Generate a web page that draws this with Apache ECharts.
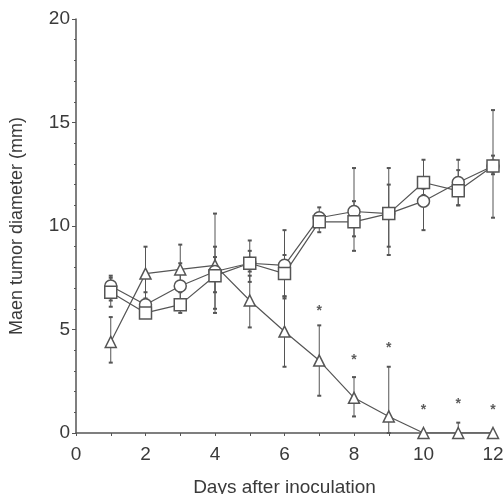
<!DOCTYPE html>
<html>
<head>
<meta charset="utf-8">
<script src="https://cdn.jsdelivr.net/npm/echarts@6/dist/echarts.min.js"></script>
<style>
  html, body { margin: 0; padding: 0; background: #fff; }
  #chart { width: 504px; height: 494px; }
</style>
</head>
<body>
<div id="chart"></div>
<script>
// days after inoculation
const days = [1, 2, 3, 4, 5, 6, 7, 8, 9, 10, 11, 12];

// triangle group (treated)
const triMean = [4.4, 7.7, 7.9, 8.1, 6.4, 4.9, 3.5, 1.7, 0.8, 0, 0, 0];
const triLow  = [3.4, 6.5, 6.8, 6.0, 5.1, 3.2, 1.8, 0.8, 0, 0, 0, 0];
const triHigh = [5.6, 9.0, 9.1, 10.6, 7.6, 6.6, 5.2, 2.7, 3.2, 0, 0.5, 0];

// circle group
const cirMean = [7.1, 6.2, 7.1, 7.8, 8.2, 8.1, 10.4, 10.7, 10.6, 11.2, 12.1, 12.9];
const cirLow  = [6.4, 5.9, 6.3, 5.8, 7.3, 6.5, 10.0, 8.8, 8.6, 9.8, 11.0, 10.4];
const cirHigh = [7.6, 6.8, 8.2, 9.0, 9.3, 9.8, 10.9, 12.8, 12.8, 11.8, 12.7, 15.6];

// square group
const sqMean = [6.8, 5.8, 6.2, 7.6, 8.2, 7.7, 10.2, 10.2, 10.6, 12.1, 11.7, 12.9];
const sqLow  = [6.1, 5.6, 5.8, 6.8, 7.8, 6.6, 9.7, 9.5, 9.0, 11.5, 11.0, 12.5];
const sqHigh = [7.5, 6.1, 7.0, 8.5, 8.8, 8.6, 10.6, 11.2, 12.0, 13.2, 13.2, 13.4];

// significance marks (*)
const starDays = [7, 8, 9, 10, 11, 12];
const starY = [5.9, 3.5, 4.1, 1.1, 1.4, 1.1];

const ink = '#555';
const txt = '#3a3a3a';

function errorSeries(low, high) {
  return {
    type: 'custom',
    z: 1,
    data: days.map((d, i) => [d, low[i], high[i]]),
    renderItem(params, api) {
      const top = api.coord([api.value(0), api.value(2)]);
      const bot = api.coord([api.value(0), api.value(1)]);
      const w = 2;
      return {
        type: 'group',
        children: [
          { type: 'line', shape: { x1: top[0], y1: top[1], x2: bot[0], y2: bot[1] }, style: { stroke: ink, lineWidth: 1 } },
          { type: 'line', shape: { x1: top[0] - w, y1: top[1], x2: top[0] + w, y2: top[1] }, style: { stroke: ink, lineWidth: 2 } },
          { type: 'line', shape: { x1: bot[0] - w, y1: bot[1], x2: bot[0] + w, y2: bot[1] }, style: { stroke: ink, lineWidth: 2 } }
        ]
      };
    }
  };
}

function lineSeries(mean, symbol) {
  return {
    type: 'line',
    z: 3,
    data: days.map((d, i) => [d, mean[i]]),
    symbol: symbol,
    symbolSize: symbol === 'triangle' ? 11 : 12,
    showAllSymbol: true,
    lineStyle: { color: ink, width: 1.2 },
    itemStyle: { color: '#fff', borderColor: ink, borderWidth: 1.5 }
  };
}

const chart = echarts.init(document.getElementById('chart'));
chart.setOption({
  animation: false,
  grid: { left: 76, right: 11, top: 19, bottom: 61, outerBoundsMode: 'none', containLabel: false },
  xAxis: {
    type: 'value',
    min: 0, max: 12, interval: 2,
    name: 'Days after inoculation',
    nameLocation: 'middle',
    nameGap: 45,
    nameTextStyle: { fontFamily: 'Liberation Sans', fontSize: 19, color: txt },
    axisLine: { lineStyle: { color: ink, width: 1.5 } },
    axisTick: { show: true, length: 3, lineStyle: { color: ink } },
    minorTick: { show: true, splitNumber: 2, length: 3, lineStyle: { color: ink } },
    axisLabel: { fontFamily: 'Liberation Sans', fontSize: 19, color: txt, margin: 12 },
    splitLine: { show: false }
  },
  yAxis: {
    type: 'value',
    min: 0, max: 20, interval: 5,
    name: 'Maen tumor diameter (mm)',
    nameLocation: 'middle',
    nameGap: 50,
    nameTextStyle: { fontFamily: 'Liberation Sans', fontSize: 18, color: txt },
    axisLine: { show: true, lineStyle: { color: ink, width: 1.5 } },
    axisTick: { show: true, length: 4, lineStyle: { color: ink } },
    minorTick: { show: true, splitNumber: 5, length: 2, lineStyle: { color: ink } },
    axisLabel: { fontFamily: 'Liberation Sans', fontSize: 19, color: txt, margin: 6 },
    splitLine: { show: false }
  },
  series: [
    errorSeries(triLow, triHigh),
    errorSeries(cirLow, cirHigh),
    errorSeries(sqLow, sqHigh),
    lineSeries(triMean, 'triangle'),
    lineSeries(cirMean, 'circle'),
    lineSeries(sqMean, 'rect'),
    {
      type: 'scatter',
      z: 4,
      data: starDays.map((d, i) => [d, starY[i]]),
      symbolSize: 0,
      label: {
        show: true,
        position: 'inside',
        formatter: '*',
        fontFamily: 'Liberation Sans',
        fontSize: 14,
        fontWeight: 'bold',
        color: '#333'
      }
    }
  ]
});
</script>
</body>
</html>
